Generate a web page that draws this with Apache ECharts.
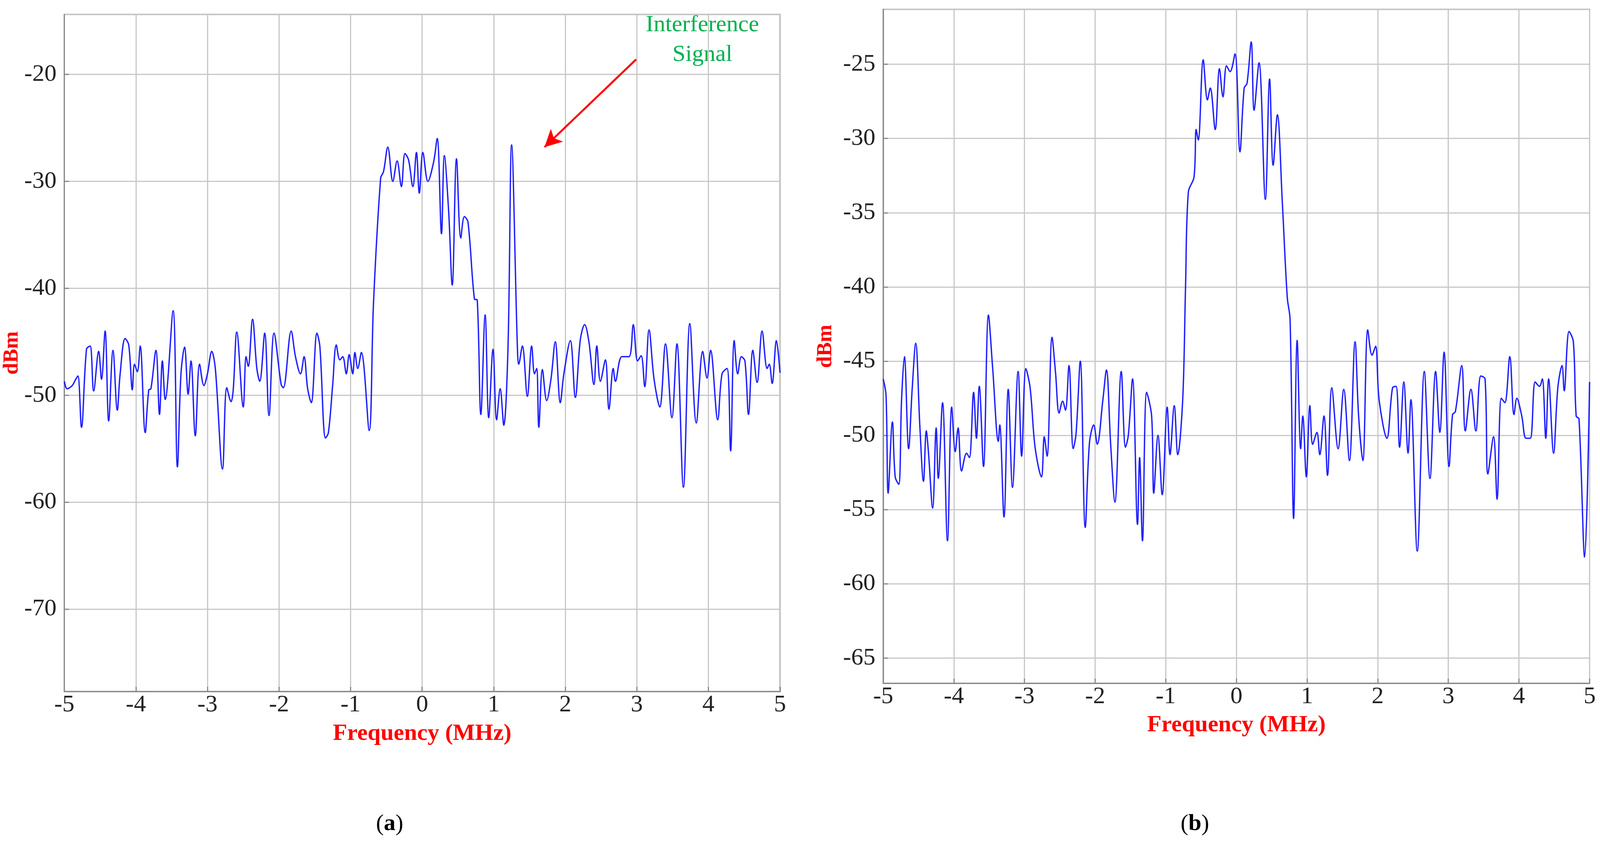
<!DOCTYPE html>
<html>
<head>
<meta charset="utf-8">
<script src="https://cdn.jsdelivr.net/npm/echarts@6/dist/echarts.min.js"></script>
<style>
html,body{margin:0;padding:0;background:#fff;overflow:hidden;}
#main{width:100vw;height:100vh;}
</style>
</head>
<body>
<div id="main"></div>
<script>
// (a) spectrum with interference
var freqA=[-5.00,-4.96,-4.89,-4.84,-4.81,-4.76,-4.69,-4.64,-4.59,-4.52,-4.48,-4.43,-4.38,-4.32,-4.26,-4.22,-4.15,-4.10,-4.05,-4.02,-3.98,-3.94,-3.87,-3.82,-3.79,-3.72,-3.67,-3.63,-3.59,-3.48,-3.42,-3.37,-3.32,-3.27,-3.23,-3.17,-3.11,-3.05,-3.00,-2.94,-2.89,-2.79,-2.73,-2.67,-2.64,-2.59,-2.50,-2.46,-2.43,-2.37,-2.31,-2.27,-2.20,-2.14,-2.07,-1.97,-1.94,-1.83,-1.77,-1.70,-1.65,-1.60,-1.55,-1.47,-1.43,-1.35,-1.31,-1.25,-1.20,-1.15,-1.11,-1.06,-1.02,-0.97,-0.94,-0.90,-0.85,-0.74,-0.68,-0.58,-0.54,-0.48,-0.41,-0.35,-0.29,-0.24,-0.19,-0.13,-0.08,-0.04,0.01,0.08,0.16,0.21,0.27,0.31,0.37,0.42,0.48,0.54,0.59,0.64,0.73,0.77,0.82,0.88,0.93,0.99,1.04,1.09,1.14,1.20,1.25,1.33,1.35,1.40,1.47,1.53,1.57,1.60,1.63,1.68,1.74,1.80,1.86,1.93,1.98,2.07,2.14,2.21,2.27,2.33,2.40,2.44,2.49,2.56,2.61,2.67,2.70,2.79,2.89,2.95,3.01,3.06,3.11,3.17,3.24,3.32,3.40,3.49,3.56,3.65,3.74,3.83,3.92,3.98,4.03,4.13,4.19,4.26,4.31,4.36,4.41,4.46,4.51,4.56,4.62,4.68,4.75,4.82,4.85,4.89,4.95,5.00];
var dbmA=[-48.7,-49.4,-49.1,-48.5,-48.2,-53.0,-45.7,-45.4,-49.6,-45.9,-48.5,-44.0,-52.4,-45.8,-51.4,-48.0,-44.7,-45.3,-49.5,-47.1,-47.8,-45.4,-53.5,-49.5,-49.4,-45.8,-51.8,-46.8,-50.4,-42.1,-56.7,-48.0,-45.5,-49.9,-46.8,-53.8,-47.1,-49.1,-48.0,-45.9,-47.5,-56.9,-49.3,-50.6,-49.5,-44.1,-51.1,-46.4,-47.3,-42.9,-47.5,-48.7,-44.2,-51.9,-44.2,-49.0,-49.3,-44.0,-46.4,-48.0,-46.4,-49.4,-50.7,-44.2,-45.4,-54.0,-53.5,-49.0,-45.3,-46.7,-46.4,-48.0,-46.2,-48.0,-46.0,-47.5,-46.0,-53.3,-41.4,-29.7,-29.1,-26.8,-30.0,-28.1,-30.5,-27.4,-28.0,-30.5,-27.3,-31.1,-27.3,-30.0,-28.2,-26.0,-34.9,-27.6,-32.8,-39.7,-27.9,-35.3,-33.3,-33.8,-41.0,-41.1,-51.8,-42.5,-52.1,-45.7,-52.3,-49.4,-52.8,-45.4,-26.6,-45.4,-47.1,-45.4,-50.1,-45.4,-48.0,-47.5,-53.0,-47.6,-50.5,-48.5,-45.0,-50.7,-48.0,-44.9,-50.2,-44.8,-43.4,-45.0,-49.0,-45.4,-48.7,-46.7,-51.3,-47.5,-48.7,-46.4,-46.4,-43.4,-46.8,-46.3,-49.2,-43.9,-48.5,-51.1,-45.2,-52.1,-45.2,-58.6,-43.3,-52.6,-45.9,-48.4,-45.8,-52.3,-48.0,-47.5,-55.2,-44.9,-48.0,-46.4,-46.8,-51.8,-45.8,-48.8,-44.0,-47.5,-47.1,-48.9,-44.9,-47.9];

// (b) spectrum without interference
var freqB=[-5.00,-4.96,-4.93,-4.87,-4.83,-4.78,-4.74,-4.70,-4.64,-4.59,-4.54,-4.48,-4.43,-4.39,-4.36,-4.30,-4.25,-4.22,-4.16,-4.09,-4.03,-3.98,-3.94,-3.89,-3.82,-3.78,-3.72,-3.68,-3.64,-3.58,-3.51,-3.45,-3.37,-3.35,-3.29,-3.23,-3.17,-3.09,-3.04,-2.98,-2.92,-2.85,-2.76,-2.72,-2.68,-2.61,-2.56,-2.51,-2.46,-2.42,-2.37,-2.31,-2.27,-2.21,-2.14,-2.08,-2.02,-1.97,-1.89,-1.84,-1.78,-1.72,-1.63,-1.57,-1.53,-1.47,-1.40,-1.37,-1.33,-1.27,-1.20,-1.17,-1.11,-1.05,-0.98,-0.94,-0.88,-0.83,-0.76,-0.72,-0.68,-0.60,-0.57,-0.54,-0.47,-0.41,-0.37,-0.30,-0.24,-0.19,-0.14,-0.09,-0.02,0.05,0.11,0.15,0.21,0.25,0.32,0.41,0.47,0.52,0.58,0.65,0.72,0.76,0.81,0.86,0.91,0.94,0.99,1.04,1.08,1.14,1.18,1.24,1.29,1.35,1.44,1.52,1.60,1.68,1.73,1.79,1.86,1.92,1.97,2.02,2.13,2.21,2.26,2.31,2.37,2.43,2.47,2.56,2.66,2.74,2.82,2.88,2.94,3.01,3.06,3.10,3.19,3.24,3.32,3.39,3.46,3.52,3.56,3.64,3.69,3.75,3.80,3.87,3.93,3.97,4.04,4.10,4.16,4.23,4.29,4.33,4.38,4.42,4.49,4.55,4.61,4.64,4.71,4.77,4.81,4.85,4.93,5.00];
var dbmB=[-46.2,-47.3,-53.9,-49.1,-52.8,-53.3,-47.6,-44.7,-50.9,-46.9,-43.8,-49.5,-53.1,-49.7,-51.1,-54.9,-49.5,-52.9,-47.8,-57.1,-48.1,-51.1,-49.5,-52.4,-51.2,-51.5,-47.1,-50.2,-46.7,-52.1,-41.9,-45.5,-50.4,-49.3,-55.5,-46.9,-53.5,-45.7,-51.4,-45.5,-46.8,-50.8,-52.8,-50.1,-51.4,-43.4,-45.8,-48.5,-47.7,-48.3,-45.3,-50.9,-49.9,-45.0,-56.2,-50.5,-49.3,-50.6,-47.6,-45.6,-50.6,-54.5,-45.7,-50.8,-50.0,-46.2,-56.0,-51.5,-57.1,-47.1,-48.7,-53.9,-50.0,-54.0,-48.1,-51.3,-48.0,-51.3,-47.6,-40.0,-33.6,-32.6,-29.4,-30.1,-24.7,-27.4,-26.6,-29.4,-25.3,-27.2,-25.1,-25.5,-24.3,-30.9,-26.6,-26.3,-23.5,-28.1,-24.9,-34.1,-26.0,-31.8,-28.4,-34.3,-40.7,-42.2,-55.6,-43.6,-50.9,-48.7,-52.8,-48.0,-50.6,-49.8,-51.3,-48.7,-52.7,-46.8,-50.9,-46.9,-51.7,-43.7,-48.7,-51.7,-42.9,-44.6,-44.0,-47.6,-50.2,-46.8,-46.7,-50.8,-46.4,-51.2,-47.6,-57.8,-45.7,-52.9,-45.7,-49.8,-44.4,-52.1,-48.6,-48.4,-45.3,-49.7,-46.9,-49.7,-46.0,-46.2,-52.6,-50.1,-54.3,-47.5,-47.8,-44.7,-48.6,-47.5,-48.7,-50.2,-50.2,-46.4,-46.7,-46.2,-50.2,-46.2,-51.2,-46.8,-45.3,-47.0,-43.0,-43.7,-48.7,-48.9,-58.2,-46.4];

function pairs(xs,ys){
	var out=[];
	for(var i=0;i<xs.length;i++){
		out.push([xs[i],ys[i]]);
	}
	return out;
}

var serif='"Liberation Serif","Times New Roman",serif';
var gridLine={show:true,lineStyle:{color:'#c8c8c8',width:3}};
var axisLineSty={show:true,onZero:false,lineStyle:{color:'#888',width:3}};
var tickSty={show:true,inside:true,length:12,lineStyle:{color:'#888',width:3}};

function xAxisOf(idx){
	return {
		type:'value',gridIndex:idx,min:-5,max:5,interval:1,
		name:'Frequency (MHz)',nameLocation:'middle',nameGap:78,
		nameTextStyle:{color:'#ff0000',fontWeight:'bold',fontSize:60,fontFamily:serif},
		axisLine:axisLineSty,
		axisTick:tickSty,
		axisLabel:{color:'#222',fontSize:62,fontFamily:serif,margin:4},
		splitLine:gridLine
	};
}
function yAxisOf(idx,mn,mx,split,gap){
	return {
		type:'value',gridIndex:idx,min:mn,max:mx,splitNumber:split,
		name:'dBm',nameLocation:'middle',nameGap:gap,
		nameTextStyle:{color:'#ff0000',fontWeight:'bold',fontSize:54,fontFamily:serif},
		axisLine:axisLineSty,
		axisTick:tickSty,
		axisLabel:{color:'#222',fontSize:62,fontFamily:serif,margin:20,showMinLabel:false,showMaxLabel:false},
		splitLine:gridLine
	};
}

var myChart=echarts.init(document.getElementById('main'));
var W=myChart.getWidth(),H=myChart.getHeight();
var capSty={fontWeight:'bold',fontSize:60,fontFamily:serif,fill:'#000'};

var option={
	backgroundColor:'#fff',
	animation:false,
	grid:[
		{left:'4.02%',top:'1.72%',width:'44.73%',height:'80.5%',show:true,borderColor:'#888',borderWidth:3},
		{left:'55.2%',top:'1.11%',width:'44.15%',height:'80.13%',show:true,borderColor:'#888',borderWidth:3}
	],
	xAxis:[xAxisOf(0),xAxisOf(1)],
	yAxis:[yAxisOf(0,-77.7,-14.4,6,95),yAxisOf(1,-66.7,-21.3,9,120)],
	series:[
		{
			type:'line',xAxisIndex:0,yAxisIndex:0,data:pairs(freqA,dbmA),
			smooth:0.35,showSymbol:false,lineStyle:{color:'#2020ff',width:3.5},
			markLine:{
				silent:true,symbol:['none','arrow'],symbolSize:[34,44],
				label:{show:false},
				lineStyle:{color:'#ff0000',width:5,type:'solid'},
				data:[[{coord:[2.99,-18.6]},{coord:[1.71,-26.8]}]]
			}
		},
		{
			type:'line',xAxisIndex:1,yAxisIndex:1,data:pairs(freqB,dbmB),
			smooth:0.35,showSymbol:false,lineStyle:{color:'#2020ff',width:3.5}
		}
	],
	graphic:[
		{type:'text',x:W*0.439,y:H*0.012,style:{text:'Interference\nSignal',fill:'#00b050',font:'60px '+serif,align:'center',lineHeight:76}},
		{type:'text',x:W*0.2435,y:H*0.98,style:{text:'({a|a})',rich:{a:capSty},fill:'#000',font:'60px '+serif,align:'center',verticalAlign:'middle'}},
		{type:'text',x:W*0.7468,y:H*0.98,style:{text:'({a|b})',rich:{a:capSty},fill:'#000',font:'60px '+serif,align:'center',verticalAlign:'middle'}}
	]
};

myChart.setOption(option);
</script>
</body>
</html>
